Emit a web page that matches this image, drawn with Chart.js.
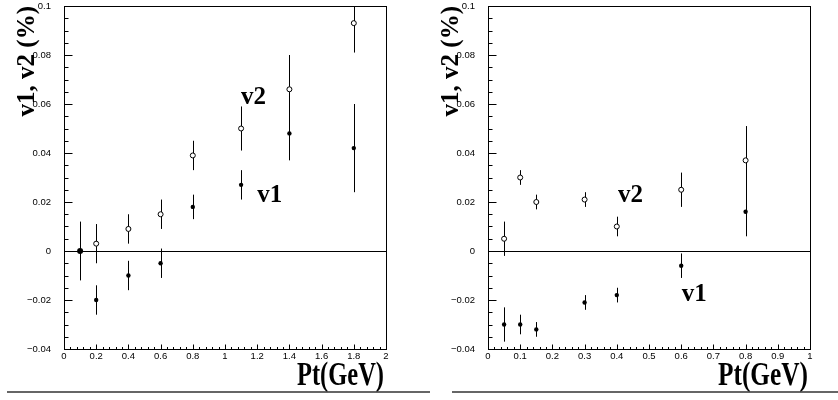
<!DOCTYPE html>
<html>
<head>
<meta charset="utf-8">
<script src="https://cdn.jsdelivr.net/npm/chart.js@4/dist/chart.umd.min.js"></script>
<style>
  html, body { margin: 0; padding: 0; background: #fff; }
  #wrap { position: relative; width: 838px; height: 400px; }
  #left-chart { position: absolute; left: 0; top: 0; }
  #right-chart { position: absolute; left: 430px; top: 0; }
</style>
</head>
<body>
<div id="wrap">
  <canvas id="left-chart" width="430" height="400"></canvas>
  <canvas id="right-chart" width="408" height="400"></canvas>
</div>
<script>
// tick values and labels
const yTickValues = [-0.04, -0.02, 0, 0.02, 0.04, 0.06, 0.08, 0.1];
const yTickLabels = ['\u22120.04', '\u22120.02', '0', '0.02', '0.04', '0.06', '0.08', '0.1'];
const leftXTickValues = [0, 0.2, 0.4, 0.6, 0.8, 1, 1.2, 1.4, 1.6, 1.8, 2];
const leftXTickLabels = ['0', '0.2', '0.4', '0.6', '0.8', '1', '1.2', '1.4', '1.6', '1.8', '2'];
const rightXTickValues = [0, 0.1, 0.2, 0.3, 0.4, 0.5, 0.6, 0.7, 0.8, 0.9, 1];
const rightXTickLabels = ['0', '0.1', '0.2', '0.3', '0.4', '0.5', '0.6', '0.7', '0.8', '0.9', '1'];

// left panel
const leftV1Pt  = [0.1, 0.2, 0.4, 0.6, 0.8, 1.1, 1.4, 1.8];
const leftV1    = [0, -0.020, -0.010, -0.005, 0.018, 0.027, 0.048, 0.042];
const leftV1Err = [0.012, 0.006, 0.006, 0.006, 0.005, 0.006, 0.011, 0.018];
const leftV2Pt  = [0.2, 0.4, 0.6, 0.8, 1.1, 1.4, 1.8];
const leftV2    = [0.003, 0.009, 0.015, 0.039, 0.050, 0.066, 0.093];
const leftV2Err = [0.008, 0.006, 0.006, 0.006, 0.009, 0.014, 0.012];

// right panel
const rightPt     = [0.05, 0.1, 0.15, 0.3, 0.4, 0.6, 0.8];
const rightV1     = [-0.030, -0.030, -0.032, -0.021, -0.018, -0.006, 0.016];
const rightV1Err  = [0.007, 0.004, 0.003, 0.003, 0.003, 0.005, 0.010];
const rightV2     = [0.005, 0.030, 0.020, 0.021, 0.010, 0.025, 0.037];
const rightV2Err  = [0.007, 0.003, 0.003, 0.003, 0.004, 0.007, 0.014];

// curve labels, placed in data coordinates
const leftNotes  = [{text: 'v2', x: 1.10, y: 0.060}, {text: 'v1', x: 1.20, y: 0.020}];
const rightNotes = [{text: 'v2', x: 0.404, y: 0.020}, {text: 'v1', x: 0.602, y: -0.0205}];

const yTitle = 'v1, v2 (%)';
const xTitle = 'Pt(GeV)';

const serif = '"Liberation Serif", "Times New Roman", serif';
const sans = '"Liberation Sans Narrow", "Liberation Sans", Arial, sans-serif';

const framePlugin = {
  id: 'frame',
  beforeDatasetsDraw(chart) {
    const {ctx, chartArea: a, scales: {x, y}} = chart;
    ctx.save();
    ctx.strokeStyle = '#000';
    ctx.lineWidth = 1;
    // zero line
    const y0 = Math.round(y.getPixelForValue(0)) + 0.5;
    ctx.beginPath();
    ctx.moveTo(a.left, y0);
    ctx.lineTo(a.right, y0);
    ctx.stroke();
    // error bars
    ctx.beginPath();
    chart.data.datasets.forEach(ds => {
      ds.data.forEach((p, i) => {
        const px = Math.round(x.getPixelForValue(p.x)) + 0.5;
        const top = Math.max(y.getPixelForValue(p.y + ds.errors[i]), a.top);
        const bot = Math.min(y.getPixelForValue(p.y - ds.errors[i]), a.bottom);
        ctx.moveTo(px, top);
        ctx.lineTo(px, bot);
      });
    });
    ctx.stroke();
    ctx.restore();
  },
  afterDraw(chart, args, opts) {
    const {ctx, chartArea: a, scales: {x, y}} = chart;
    ctx.save();
    ctx.strokeStyle = '#000';
    ctx.lineWidth = 1;
    const L = Math.round(a.left) + 0.5, T = Math.round(a.top) + 0.5;
    const R = Math.round(a.right) + 0.5, B = Math.round(a.bottom) + 0.5;
    ctx.strokeRect(L, T, R - L, B - T);

    // inward ticks, major + minor
    ctx.beginPath();
    const ny = Math.round((y.max - y.min) / opts.yMinor);
    for (let k = 0; k <= ny; k++) {
      const py = Math.round(y.getPixelForValue(y.min + k * opts.yMinor)) + 0.5;
      ctx.moveTo(L, py);
      ctx.lineTo(L + (k % opts.yPerMajor === 0 ? 8 : 4), py);
    }
    const nx = Math.round((x.max - x.min) / opts.xMinor);
    for (let k = 0; k <= nx; k++) {
      const px = Math.round(x.getPixelForValue(x.min + k * opts.xMinor)) + 0.5;
      ctx.moveTo(px, B);
      ctx.lineTo(px, B - (k % opts.xPerMajor === 0 ? 5 : 2.5));
    }
    ctx.stroke();

    ctx.fillStyle = '#000';
    // y title
    ctx.save();
    ctx.font = 'bold 25px ' + serif;
    ctx.translate(opts.yTitleX, 6);
    ctx.rotate(-Math.PI / 2);
    ctx.textAlign = 'right';
    ctx.textBaseline = 'alphabetic';
    ctx.fillText(yTitle, 0, 0);
    ctx.restore();

    // x title, squeezed to the width of the original
    ctx.save();
    ctx.font = 'bold 33px ' + serif;
    const w = ctx.measureText(xTitle).width;
    ctx.translate(a.right - 2, 385);
    ctx.scale(opts.xTitleW / w, 1);
    ctx.textAlign = 'right';
    ctx.textBaseline = 'alphabetic';
    ctx.fillText(xTitle, 0, 0);
    ctx.restore();

    // curve labels
    ctx.font = 'bold 25px ' + serif;
    ctx.textAlign = 'left';
    ctx.textBaseline = 'alphabetic';
    opts.notes.forEach(n => {
      ctx.fillText(n.text, x.getPixelForValue(n.x), y.getPixelForValue(n.y));
    });

    // rule under the panel
    ctx.strokeStyle = '#333';
    ctx.lineWidth = 1.5;
    ctx.beginPath();
    ctx.moveTo(opts.rule[0], 392);
    ctx.lineTo(opts.rule[1], 392);
    ctx.stroke();
    ctx.restore();
  }
};

function makeChart(id, o) {
  return new Chart(document.getElementById(id), {
    type: 'scatter',
    data: {
      datasets: [
        {
          label: 'v2',
          data: o.v2Pt.map((px, i) => ({x: px, y: o.v2[i]})),
          errors: o.v2Err,
          pointRadius: 2.5,
          pointBorderWidth: 1,
          pointBackgroundColor: '#fff',
          pointBorderColor: '#000'
        },
        {
          label: 'v1',
          data: o.v1Pt.map((px, i) => ({x: px, y: o.v1[i]})),
          errors: o.v1Err,
          pointRadius: o.v1Radius,
          pointBorderWidth: 0,
          pointBackgroundColor: '#000',
          pointBorderColor: '#000'
        }
      ]
    },
    options: {
      responsive: false,
      animation: false,
      events: [],
      layout: {padding: {left: 0, top: 6, right: o.padRight, bottom: 0}},
      plugins: {
        legend: {display: false},
        tooltip: {enabled: false},
        frame: o.frame
      },
      scales: {
        x: {
          type: 'linear',
          min: o.xTicks[0],
          max: o.xTicks[o.xTicks.length - 1],
          grid: {display: false, drawTicks: false},
          border: {display: false},
          afterBuildTicks: s => { s.ticks = o.xTicks.map(value => ({value})); },
          afterFit: s => { s.height = 51; s.paddingLeft = 0; s.paddingRight = 0; },
          ticks: {
            autoSkip: false, maxRotation: 0, padding: 2, color: '#000',
            font: {family: sans, size: 9.5},
            callback: (v, i) => o.xLabels[i]
          }
        },
        y: {
          type: 'linear',
          min: yTickValues[0],
          max: yTickValues[yTickValues.length - 1],
          grid: {display: false, drawTicks: false},
          border: {display: false},
          afterBuildTicks: s => { s.ticks = yTickValues.map(value => ({value})); },
          afterFit: s => { s.width = o.yWidth; s.paddingTop = 0; s.paddingBottom = 0; },
          ticks: {
            autoSkip: false, padding: 13, color: '#000',
            font: {family: sans, size: 9.5},
            callback: (v, i) => yTickLabels[i]
          }
        }
      }
    },
    plugins: [framePlugin]
  });
}

makeChart('left-chart', {
  v1Pt: leftV1Pt, v1: leftV1, v1Err: leftV1Err,
  v2Pt: leftV2Pt, v2: leftV2, v2Err: leftV2Err,
  v1Radius: ctx => ctx.dataIndex === 0 ? 3 : 2.2,
  xTicks: leftXTickValues, xLabels: leftXTickLabels,
  yWidth: 64, padRight: 44,
  frame: {yMinor: 0.005, yPerMajor: 4, xMinor: 0.04, xPerMajor: 5,
          yTitleX: 33.5, xTitleW: 87, notes: leftNotes, rule: [7, 430]}
});

makeChart('right-chart', {
  v1Pt: rightPt, v1: rightV1, v1Err: rightV1Err,
  v2Pt: rightPt, v2: rightV2, v2Err: rightV2Err,
  v1Radius: 2.2,
  xTicks: rightXTickValues, xLabels: rightXTickLabels,
  yWidth: 58, padRight: 28,
  frame: {yMinor: 0.005, yPerMajor: 4, xMinor: 0.02, xPerMajor: 5,
          yTitleX: 27.5, xTitleW: 90, notes: rightNotes, rule: [22, 408]}
});
</script>
</body>
</html>
